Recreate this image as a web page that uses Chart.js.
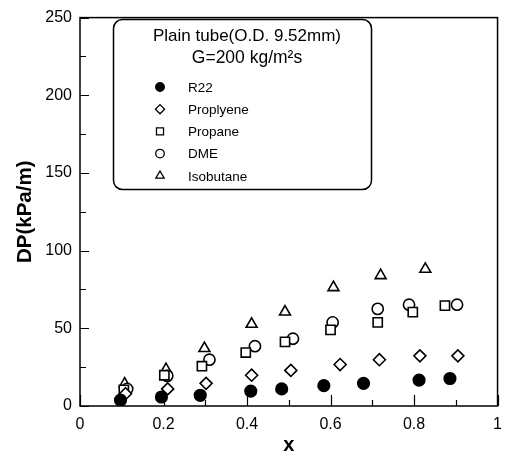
<!DOCTYPE html>
<html><head><meta charset="utf-8">
<script src="https://cdn.jsdelivr.net/npm/chart.js@4.4.1/dist/chart.umd.min.js"></script>
<style>html,body{margin:0;padding:0;background:#fff}</style>
</head><body>
<canvas id="c" width="511" height="458"></canvas>
<script>
// ---- data ----
const xTickLabels = ['0', '0.2', '0.4', '0.6', '0.8', '1'];
const yTickLabels = ['0', '50', '100', '150', '200', '250'];
const seriesNames = ['R22', 'Proplyene', 'Propane', 'DME', 'Isobutane'];
const titleLines = ['Plain tube(O.D. 9.52mm)', 'G=200 kg/m\u00b2s'];

const xR22 = [0.097, 0.195, 0.288, 0.409, 0.483, 0.584, 0.679, 0.812, 0.886];
const yR22 = [3.8, 5.8, 6.9, 9.6, 11.0, 13.1, 14.6, 16.7, 17.7];

const xProplyene = [0.109, 0.210, 0.302, 0.411, 0.505, 0.623, 0.717, 0.814, 0.905];
const yProplyene = [7.9, 11.0, 14.6, 19.8, 22.9, 26.7, 29.8, 32.3, 32.3];

const xPropane = [0.105, 0.202, 0.292, 0.397, 0.491, 0.600, 0.713, 0.797, 0.874];
const yPropane = [10.4, 19.8, 25.6, 34.4, 41.3, 49.0, 53.8, 60.4, 64.6];

const xDME = [0.113, 0.209, 0.310, 0.419, 0.510, 0.605, 0.713, 0.788, 0.903];
const yDME = [11.0, 19.4, 29.8, 38.5, 43.3, 53.8, 62.5, 65.2, 65.2];

const xIsobutane = [0.107, 0.206, 0.298, 0.411, 0.491, 0.607, 0.720, 0.827];
const yIsobutane = [14.2, 23.5, 37.1, 52.7, 60.6, 76.3, 84.0, 88.1];

// ---- styles ----
const FONT = '"Liberation Sans", Arial, Helvetica, sans-serif';
const seriesX = [xR22, xProplyene, xPropane, xDME, xIsobutane];
const seriesY = [yR22, yProplyene, yPropane, yDME, yIsobutane];
const styles = [
  {pointStyle: 'circle',   fill: '#000', radius: 5.8, legendRadius: 4.3},
  {pointStyle: 'rectRot',  fill: '#fff', radius: 6.0, legendRadius: 4.6},
  {pointStyle: 'rect',     fill: '#fff', radius: 6.5, legendRadius: 5.0},
  {pointStyle: 'circle',   fill: '#fff', radius: 5.6, legendRadius: 4.3},
  {pointStyle: 'triangle', fill: '#fff', radius: 6.3, legendRadius: 4.8}
];

const datasets = seriesNames.map((name, i) => ({
  label: name,
  data: seriesX[i].map((x, j) => ({x: x, y: seriesY[i][j]})),
  pointStyle: styles[i].pointStyle,
  pointRadius: styles[i].radius,
  pointHoverRadius: styles[i].radius,
  pointBackgroundColor: styles[i].fill,
  pointBorderColor: '#000',
  pointBorderWidth: 1.6,
  showLine: false
}));

function fmt(v) { return String(parseFloat(v.toFixed(2))); }

const frameAndTicks = {
  id: 'frameAndTicks',
  afterDatasetsDraw(chart) {
    const ctx = chart.ctx, a = chart.chartArea;
    const xs = chart.scales.x, ys = chart.scales.y;
    ctx.save();
    ctx.strokeStyle = '#000';
    ctx.lineWidth = 1.5;
    ctx.strokeRect(a.left, a.top, a.right - a.left, a.bottom - a.top);
    ctx.lineWidth = 1.2;
    ctx.beginPath();
    ys.ticks.forEach(t => {
      const major = yTickLabels.indexOf(fmt(t.value)) >= 0;
      const p = Math.round(ys.getPixelForValue(t.value)) + 0.5;
      ctx.moveTo(a.left, p); ctx.lineTo(a.left + (major ? 9 : 6), p);
    });
    xs.ticks.forEach(t => {
      const major = xTickLabels.indexOf(fmt(t.value)) >= 0;
      const p = Math.round(xs.getPixelForValue(t.value)) + 0.5;
      ctx.moveTo(p, a.bottom); ctx.lineTo(p, a.bottom - (major ? 11 : 6));
    });
    ctx.stroke();
    ctx.restore();
  },
  afterDraw(chart) {
    const ctx = chart.ctx;
    ctx.save();
    // legend box
    ctx.strokeStyle = '#000';
    ctx.lineWidth = 1.5;
    ctx.fillStyle = '#fff';
    ctx.beginPath();
    ctx.roundRect(113.5, 19.5, 258, 170, 9);
    ctx.fill();
    ctx.stroke();
    ctx.fillStyle = '#000';
    ctx.textAlign = 'center';
    ctx.textBaseline = 'middle';
    ctx.font = '17px ' + FONT;
    ctx.fillText(titleLines[0], 247, 36);
    ctx.font = '17.5px ' + FONT;
    ctx.fillText(titleLines[1], 247, 58);
    ctx.textAlign = 'left';
    ctx.font = '13.5px ' + FONT;
    chart.data.datasets.forEach((ds, i) => {
      const y = 87 + i * 22.2;
      ctx.fillStyle = styles[i].fill;
      ctx.strokeStyle = '#000';
      ctx.lineWidth = 1.3;
      Chart.helpers.drawPoint(ctx, {pointStyle: styles[i].pointStyle, radius: styles[i].legendRadius, rotation: 0, borderWidth: 1.3}, 160, y);
      ctx.fillStyle = '#000';
      ctx.fillText(ds.label, 188, y + 1);
    });
    ctx.restore();
  }
};

new Chart(document.getElementById('c'), {
  type: 'scatter',
  data: {datasets: datasets},
  options: {
    responsive: false,
    animation: false,
    devicePixelRatio: 1,
    layout: {padding: {top: 6, right: 3, left: 0, bottom: 0}},
    plugins: {legend: {display: false}, tooltip: {enabled: false}},
    scales: {
      x: {
        type: 'linear', min: 0, max: 1,
        afterFit(s) { s.height = 52; },
        grid: {display: false, drawTicks: false},
        border: {display: false},
        ticks: {
          stepSize: 0.1, autoSkip: false, maxRotation: 0, padding: 9,
          color: '#000', font: {family: FONT, size: 16},
          callback(v) { const s = fmt(v); return xTickLabels.indexOf(s) >= 0 ? s : ''; }
        },
        title: {display: true, text: 'x', color: '#000', font: {family: FONT, size: 20, weight: 'bold'}, padding: {top: 0, bottom: 1}}
      },
      y: {
        type: 'linear', min: 0, max: 250,
        afterFit(s) { s.width = 80; },
        grid: {display: false, drawTicks: false},
        border: {display: false},
        ticks: {
          stepSize: 25, autoSkip: false, padding: 8,
          color: '#000', font: {family: FONT, size: 16},
          callback(v) { const s = fmt(v); return yTickLabels.indexOf(s) >= 0 ? s : ''; }
        },
        title: {display: true, text: 'DP(kPa/m)', color: '#000', font: {family: FONT, size: 20.5, weight: 'bold'}, padding: {top: 13, bottom: 0}}
      }
    }
  },
  plugins: [frameAndTicks]
});
</script>
</body></html>
